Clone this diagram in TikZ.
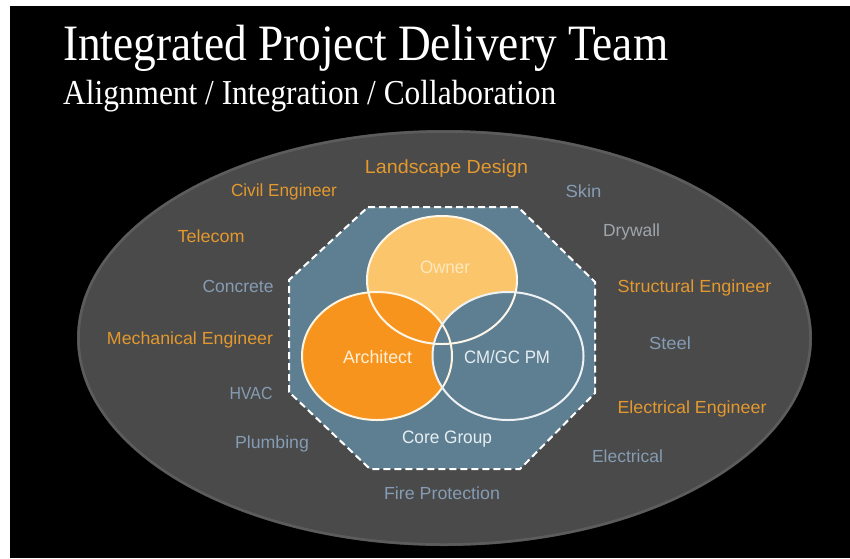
\documentclass[tikz,border=0pt]{standalone}
\usepackage{fontspec}
\setmainfont{Liberation Serif}
\newfontfamily\lblfont{Liberation Sans}
\usetikzlibrary{calc}
\definecolor{ellfill}{HTML}{4A4A4A}
\definecolor{ellrim}{HTML}{5C5C5C}
\definecolor{octfill}{HTML}{5E7F91}
\definecolor{ownerfill}{HTML}{FBC56C}
\definecolor{archfill}{HTML}{F7941E}
\definecolor{orangelbl}{HTML}{E3992E}
\definecolor{bluelbl}{HTML}{859CB3}
\definecolor{graylbl}{HTML}{A0A6AC}
\definecolor{ownertxt}{HTML}{FDE8BE}
\definecolor{archtxt}{HTML}{FFF0D6}
\definecolor{cmtxt}{HTML}{E6EEF3}
\newcommand\fitw[2]{\resizebox{#1pt}{\height}{#2}}
\begin{document}
\begin{tikzpicture}[x=1pt,y=-1pt,
  lbl/.style={inner sep=0pt, anchor=base, font=\lblfont\fontsize{17.5}{17.5}\selectfont},
  outer/.style={lbl, text=bluelbl},
  eng/.style={lbl, text=orangelbl},
  core/.style={lbl, font=\lblfont\fontsize{18}{18}\selectfont}]
\useasboundingbox (0,0) rectangle (850,558);
\fill[white] (0,0) rectangle (850,558);
\fill[black] (10,6) rectangle (850,558);
% big ellipse
\fill[ellfill] (444.5,338) ellipse [x radius=367.5, y radius=208];
\draw[ellrim, line width=2.5pt] (444.5,338) ellipse [x radius=366, y radius=206.5];
\fill[ellfill] (444.5,338) ellipse [x radius=364, y radius=204.5];
% titles
\node[anchor=base west, inner sep=0pt, text=white, font=\fontsize{51}{51}\selectfont] (title) at (63,60) {\fitw{605}{Integrated Project Delivery Team}};
\node[anchor=base west, inner sep=0pt, text=white, font=\fontsize{35}{35}\selectfont] (subtitle) at (63,104) {\fitw{493}{Alignment / Integration / Collaboration}};
% octagon
\filldraw[fill=octfill, draw=white, line width=2pt, dash pattern=on 7pt off 4pt]
  (368,207) -- (518,207) -- (595,282) -- (595,393) -- (520,469) -- (370,469) -- (289,392) -- (289,280) -- cycle;
% core ellipses
\fill[ownerfill] (442,280) ellipse [x radius=75, y radius=64];
\fill[archfill] (377,356) ellipse [x radius=75, y radius=64];
\fill[octfill] (508,356) ellipse [x radius=75.5, y radius=64];
\draw[white!85!ownerfill, line width=2pt] (442,280) ellipse [x radius=75, y radius=64];
\draw[white!80!ownerfill, line width=2pt] (377,356) ellipse [x radius=75, y radius=64];
\draw[white!90!octfill, line width=2pt] (508,356) ellipse [x radius=75.5, y radius=64];
% core labels
\node[core, text=ownertxt] (owner) at (445,273) {\fitw{50}{Owner}};
\node[core, text=archtxt] (architect) at (377.5,363) {\fitw{69}{Architect}};
\node[core, text=cmtxt] (cmgc) at (507,363) {\fitw{86}{CM/GC PM}};
\node[core, text=cmtxt] (coregroup) at (447,443) {\fitw{90}{Core Group}};
% outer labels
\node[eng, font=\lblfont\fontsize{19}{19}\selectfont] (landscape) at (446.5,173) {\fitw{163}{Landscape Design}};
\node[eng] (civil) at (284,196) {\fitw{106}{Civil Engineer}};
\node[outer] (skin) at (583.5,197) {\fitw{36}{Skin}};
\node[eng] (telecom) at (211,242) {\fitw{67}{Telecom}};
\node[outer, text=graylbl] (drywall) at (631.5,236) {\fitw{57}{Drywall}};
\node[outer] (concrete) at (238,292) {\fitw{71}{Concrete}};
\node[eng] (structural) at (694.5,292) {\fitw{154}{Structural Engineer}};
\node[eng] (mechanical) at (190,344) {\fitw{166}{Mechanical Engineer}};
\node[outer] (steel) at (670,349) {\fitw{42}{Steel}};
\node[outer] (hvac) at (251,399) {\fitw{43}{HVAC}};
\node[eng] (electricaleng) at (692,413) {\fitw{149}{Electrical Engineer}};
\node[outer] (plumbing) at (272,448) {\fitw{74}{Plumbing}};
\node[outer] (electrical) at (627.5,462) {\fitw{71}{Electrical}};
\node[outer] (fire) at (442,499) {\fitw{116}{Fire Protection}};
\end{tikzpicture}
\end{document}
